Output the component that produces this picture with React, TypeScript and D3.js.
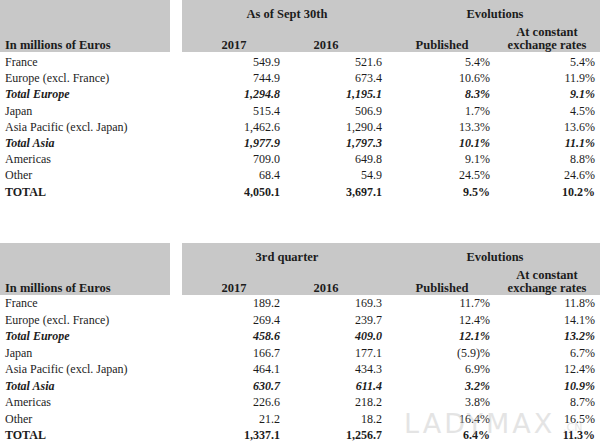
import React from "react";
import * as d3 from "d3";

const regions = [
  "France",
  "Europe (excl. France)",
  "Total Europe",
  "Japan",
  "Asia Pacific (excl. Japan)",
  "Total Asia",
  "Americas",
  "Other",
  "TOTAL",
];
// "sub" = italic bold subtotal, "total" = bold grand total
const rowKinds = ["", "", "sub", "", "", "sub", "", "", "total"];

const columns = ["y2017", "y2016", "published", "constant"];

// As of Sept 30th
const ytd2017 = [549.9, 744.9, 1294.8, 515.4, 1462.6, 1977.9, 709.0, 68.4, 4050.1];
const ytd2016 = [521.6, 673.4, 1195.1, 506.9, 1290.4, 1797.3, 649.8, 54.9, 3697.1];
const ytdPublished = [5.4, 10.6, 8.3, 1.7, 13.3, 10.1, 9.1, 24.5, 9.5];
const ytdConstant = [5.4, 11.9, 9.1, 4.5, 13.6, 11.1, 8.8, 24.6, 10.2];

// 3rd quarter
const q3_2017 = [189.2, 269.4, 458.6, 166.7, 464.1, 630.7, 226.6, 21.2, 1337.1];
const q3_2016 = [169.3, 239.7, 409.0, 177.1, 434.3, 611.4, 218.2, 18.2, 1256.7];
const q3Published = [11.7, 12.4, 12.1, -5.9, 6.9, 3.2, 3.8, 16.4, 6.4];
const q3Constant = [11.8, 14.1, 13.2, 6.7, 12.4, 10.9, 8.7, 16.5, 11.3];

const tables = [
  {
    title: "As of Sept 30th",
    top: 0,
    rowRange: [62, 191.5],
    values: [ytd2017, ytd2016, ytdPublished, ytdConstant],
  },
  {
    title: "3rd quarter",
    top: 243,
    rowRange: [303, 435],
    values: [q3_2017, q3_2016, q3Published, q3Constant],
  },
];

const W = 600;
const H = 448;
const headH = 52;
const grey = "#c8c8c8";
const ink = "#1c1c1c";
const font = "'Liberation Serif', 'Times New Roman', serif";

const num = d3.format(",.1f");
const pct = (v) => (v < 0 ? `(${Math.abs(v).toFixed(1)})%` : `${v.toFixed(1)}%`);

// right edge of the figures in each column
const colRight = d3.scaleOrdinal().domain(columns).range([280, 382, 490, 595]);
// centre of the column headings
const colMid = d3.scaleOrdinal().domain(columns).range([234, 326, 442, 547]);

function Table({ t }) {
  const y = d3.scalePoint().domain(regions).range(t.rowRange);
  const h = t.top;
  const headProps = {
    fontWeight: "bold",
    textAnchor: "middle",
    fontSize: 12.5,
  };
  return (
    <g>
      <rect x={0} y={h} width={170} height={headH} fill={grey} />
      <rect x={182} y={h} width={W - 182} height={headH} fill={grey} />

      <text x={287} y={h + 14} dominantBaseline="central" {...headProps}>
        {t.title}
      </text>
      <text x={495} y={h + 14} dominantBaseline="central" {...headProps}>
        Evolutions
      </text>
      <text x={colMid("constant")} y={h + 32} dominantBaseline="central" {...headProps}>
        At constant
      </text>
      <text x={5} y={h + 45} dominantBaseline="central" fontWeight="bold" fontSize={12.5}>
        In millions of Euros
      </text>
      {["2017", "2016", "Published", "exchange rates"].map((lab, i) => (
        <text
          key={lab}
          x={colMid(columns[i])}
          y={h + 45}
          dominantBaseline="central"
          {...headProps}
        >
          {lab}
        </text>
      ))}

      {regions.map((r, i) => {
        const kind = rowKinds[i];
        const weight = kind ? "bold" : "normal";
        const style = kind === "sub" ? "italic" : "normal";
        return (
          <g key={r} fontWeight={weight} fontStyle={style}>
            <text x={5} y={y(r)} dominantBaseline="central">
              {r}
            </text>
            {columns.map((c, j) => {
              const v = t.values[j][i];
              return (
                <text
                  key={c}
                  x={colRight(c)}
                  y={y(r)}
                  textAnchor="end"
                  dominantBaseline="central"
                >
                  {j < 2 ? num(v) : pct(v)}
                </text>
              );
            })}
          </g>
        );
      })}
    </g>
  );
}

export default function App() {
  return (
    <svg
      width={W}
      height={H}
      viewBox={`0 0 ${W} ${H}`}
      style={{ position: "absolute", left: 0, top: 0, background: "#fff" }}
      fontFamily={font}
      fontSize={12}
      fill={ink}
    >
      {tables.map((t) => (
        <Table key={t.title} t={t} />
      ))}
      {/* watermark */}
      <g fill="#bdbdbd" opacity={0.4} fontFamily="'DejaVu Sans', sans-serif">
        <text x={404} y={433} fontSize={27} letterSpacing={3}>
          LADYMAX
        </text>
        <text x={563} y={431} fontSize={11}>
          .CN
        </text>
      </g>
    </svg>
  );
}
